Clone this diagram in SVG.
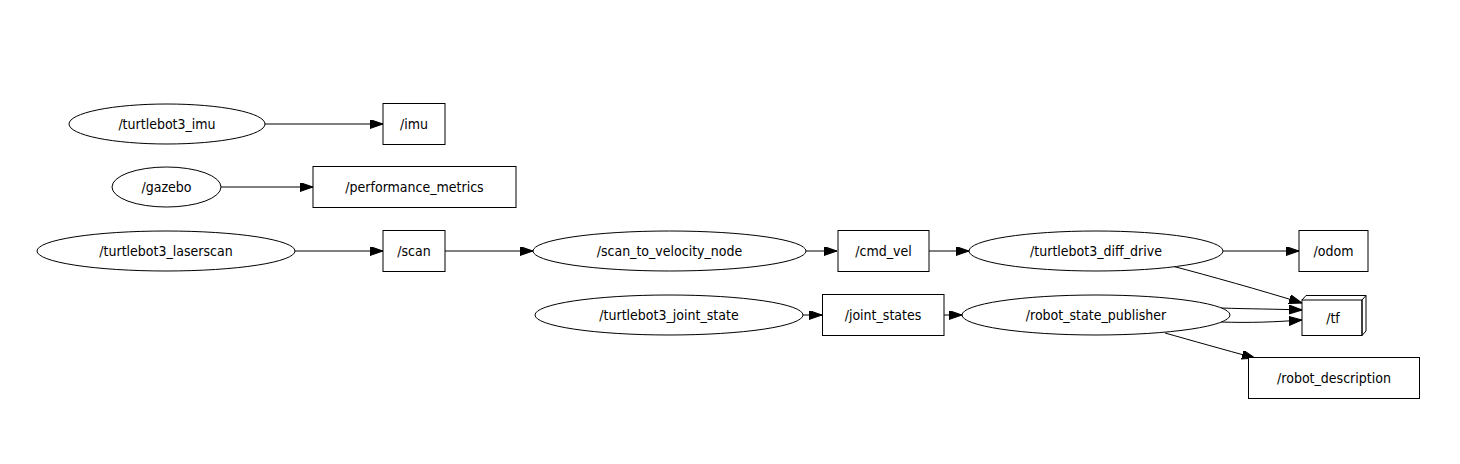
<svg xmlns="http://www.w3.org/2000/svg" width="1460" height="464" viewBox="0 0 1460 464">
<defs>
<marker id="ah" markerWidth="14" markerHeight="10" refX="13" refY="4.5" orient="auto" markerUnits="userSpaceOnUse">
<path d="M0,0 L13,4.5 L0,9 Z" fill="#000" stroke="#000" stroke-width="1"/>
</marker>
<style>
.n ellipse, .n rect, .n path { fill: #fff; stroke: #000; stroke-width: 1; }
.n text { font-family: "DejaVu Sans Condensed", "DejaVu Sans", sans-serif; font-stretch: condensed; font-size: 14px; text-anchor: middle; dominant-baseline: central; fill: #000; }
#edges path { fill: none; stroke: #000; stroke-width: 1; marker-end: url(#ah); }
</style>
</defs>
<rect width="1460" height="464" fill="#fff"/>
<g id="edges">
<path d="M265,124 L383,124"/>
<path d="M221,187 L313,187"/>
<path d="M295,251 L383,251"/>
<path d="M445,251 L533,251"/>
<path d="M806,251 L837,251"/>
<path d="M929,251 L969,251"/>
<path d="M1223,251 L1299,251"/>
<path d="M803,315 L822,315"/>
<path d="M944,315 L962,315"/>
<path d="M1172,266 C1210,276 1260,290 1302,303"/>
<path d="M1221,308 C1250,309 1275,309 1302,310"/>
<path d="M1221,322 C1250,323 1275,322 1302,320"/>
<path d="M1165,333 C1190,340 1225,350 1255,358"/>
</g>
<g id="turtlebot3_imu" class="n"><ellipse cx="167" cy="124" rx="98" ry="20"/><text x="167" y="124">/turtlebot3_imu</text></g>
<g id="imu" class="n"><rect x="383" y="103.5" width="62" height="41"/><text x="414" y="124">/imu</text></g>
<g id="gazebo" class="n"><ellipse cx="166.5" cy="187" rx="54.5" ry="20"/><text x="166.5" y="187">/gazebo</text></g>
<g id="performance_metrics" class="n"><rect x="313" y="166.5" width="203" height="41"/><text x="414.5" y="187">/performance_metrics</text></g>
<g id="turtlebot3_laserscan" class="n"><ellipse cx="166" cy="251" rx="129" ry="20"/><text x="166" y="251">/turtlebot3_laserscan</text></g>
<g id="scan" class="n"><rect x="383" y="230.5" width="62" height="41"/><text x="414" y="251">/scan</text></g>
<g id="scan_to_velocity_node" class="n"><ellipse cx="669.5" cy="251" rx="136.5" ry="20"/><text x="669.5" y="251">/scan_to_velocity_node</text></g>
<g id="cmd_vel" class="n"><rect x="838" y="230.5" width="91" height="41"/><text x="883.5" y="251">/cmd_vel</text></g>
<g id="turtlebot3_diff_drive" class="n"><ellipse cx="1096" cy="251" rx="127" ry="20"/><text x="1096" y="251">/turtlebot3_diff_drive</text></g>
<g id="odom" class="n"><rect x="1299" y="230.5" width="69" height="41"/><text x="1333.5" y="251">/odom</text></g>
<g id="turtlebot3_joint_state" class="n"><ellipse cx="669" cy="315" rx="134" ry="20"/><text x="669" y="315">/turtlebot3_joint_state</text></g>
<g id="joint_states" class="n"><rect x="822.5" y="294.5" width="121.5" height="41"/><text x="883" y="315">/joint_states</text></g>
<g id="robot_state_publisher" class="n"><ellipse cx="1096" cy="315" rx="134" ry="20"/><text x="1096" y="315">/robot_state_publisher</text></g>
<g id="tf" class="n"><path d="M1302,300 L1306,295.5 L1366,295.5 L1366,331 L1362,335.5 Z"/><rect x="1302" y="300" width="60" height="35.5"/><path d="M1362,300 L1366,295.5 M1362,300 L1362,335.5" fill="none"/><text x="1333" y="318">/tf</text></g>
<g id="robot_description" class="n"><rect x="1248.5" y="357.5" width="171" height="41"/><text x="1334" y="378">/robot_description</text></g>
</svg>
